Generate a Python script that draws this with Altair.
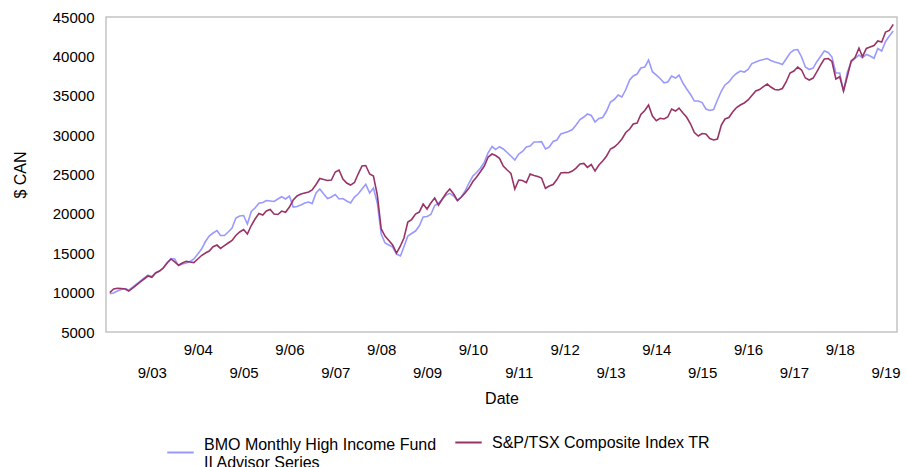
import altair as alt
import pandas as pd

# Growth of a $10,000 investment, month-end values from October 2002.
FUND = "BMO Monthly High Income Fund II Advisor Series"
INDEX = "S&P/TSX Composite Index TR"
FIRST_MONTH = "2002-10-01"

fund_values = [
    9850, 9950, 10200, 10390, 10520, 10330, 10710, 11090, 11470, 11850,
    12230, 12040, 12490, 12740, 13120, 13820, 14330, 14270, 13440, 13630,
    13760, 13950, 14270, 14900, 15540, 16490, 17190, 17570, 17890, 17250,
    17250, 17700, 18200, 19470, 19730, 19790, 18710, 20300, 20740, 21340,
    21440, 21700, 21630, 21570, 21890, 22180, 21890, 22270, 20870, 20930,
    21120, 21380, 21510, 21310, 22650, 23160, 22520, 21950, 22140, 22460,
    21890, 21950, 21630, 21380, 22140, 22520, 23160, 23750, 22650, 23280,
    21380, 17440, 16300, 16040, 15790, 14900, 14650, 15830, 17190, 17510,
    17820, 18460, 19600, 19660, 19920, 21060, 21340, 21890, 22390, 22610,
    22270, 21700, 22140, 22900, 23920, 24810, 25250, 25820, 26580, 27790,
    28550, 28170, 28530, 28240, 27790, 27350, 26840, 27600, 27920, 28490,
    28620, 29130, 29130, 29170, 28240, 28490, 29190, 29380, 30140, 30310,
    30460, 30710, 31280, 31980, 32300, 32680, 32490, 31670, 32110, 32240,
    33060, 34210, 34520, 35090, 34840, 35790, 37000, 37510, 37760, 38520,
    38650, 39540, 38050, 37630, 37190, 36650, 36750, 37510, 37250, 37630,
    36620, 35860, 35160, 34330, 34330, 34140, 33320, 33130, 33250, 34460,
    35600, 36370, 36750, 37380, 37830, 38140, 38010, 38330, 39090, 39290,
    39480, 39600, 39730, 39480, 39290, 39160, 38970, 39670, 40430, 40810,
    40870, 39920, 38650, 38330, 38520, 39290, 39990, 40680, 40490, 39920,
    37890, 37890, 35600, 38010, 39290, 39730, 40170, 39830, 40240, 40050,
    39760, 41000, 40680, 41890, 42590, 43220,
]

index_values = [
    10000, 10460, 10550, 10520, 10460, 10200, 10580, 10960, 11350, 11730,
    12110, 11940, 12490, 12740, 13120, 13760, 14270, 13890, 13470, 13760,
    13970, 13890, 13820, 14270, 14710, 15030, 15280, 15830, 16040, 15620,
    15980, 16300, 16620, 17250, 17700, 18010, 17440, 18520, 19350, 20040,
    19850, 20360, 20550, 19980, 19920, 20360, 20200, 20870, 21760, 22270,
    22520, 22650, 22780, 23030, 23730, 24490, 24360, 24240, 24300, 25320,
    25570, 24430, 23920, 23660, 23980, 25060, 26080, 26140, 25060, 24810,
    22390, 18080, 17190, 16620, 16040, 15030, 15920, 16930, 18960, 19280,
    19980, 20230, 21250, 20620, 21380, 22010, 21120, 21890, 22650, 23160,
    22520, 21700, 22140, 22650, 23280, 24110, 24680, 25380, 26080, 27220,
    27600, 27410, 27060, 26080, 25570, 25150, 23160, 24300, 24240, 23960,
    25060, 24870, 24740, 24550, 23250, 23540, 23730, 24360, 25190, 25250,
    25230, 25440, 25820, 26330, 26400, 25910, 26270, 25440, 26200, 26710,
    27350, 28240, 28490, 28940, 29510, 30330, 30780, 31410, 31540, 32620,
    33130, 33830, 32430, 31830, 32140, 32050, 32300, 33320, 33060, 33440,
    32810, 32260, 31410, 30330, 29890, 30210, 30140, 29570, 29380, 29510,
    31280, 32050, 32240, 32940, 33510, 33830, 34080, 34460, 35030, 35600,
    35790, 36150, 36490, 36110, 35790, 35730, 35920, 36750, 37890, 38140,
    38650, 38270, 37250, 37000, 37250, 38010, 38900, 39670, 39730, 39350,
    37130, 37420, 35600, 37510, 39410, 39860, 41060, 39960, 41000, 41190,
    41380, 41950, 41830, 43090, 43290, 44070,
]

y_ticks = [5000, 10000, 15000, 20000, 25000, 30000, 35000, 40000, 45000]
label_years = list(range(2003, 2020))

months = pd.date_range(FIRST_MONTH, periods=len(fund_values), freq="MS")
df = pd.concat(
    [
        pd.DataFrame({"Date": months, "Value": fund_values, "Series": FUND}),
        pd.DataFrame({"Date": months, "Value": index_values, "Series": INDEX}),
    ],
    ignore_index=True,
)

FONT = "Liberation Sans"

x_axis = alt.Axis(
    title="Date",
    values=[alt.DateTime(year=y, month=9, date=1) for y in label_years],
    format="%-m/%y",
    labelFont=FONT,
    labelFontSize=15,
    labelColor="#000000",
    labelAngle=0,
    # odd years drop to a second row of labels
    labelPadding={"condition": {"test": "year(datum.value) % 2 == 1", "value": 33}, "value": 10},
    labelOverlap=False,
    labelFlush=False,
    ticks=False,
    domain=False,
    grid=False,
    titleFont=FONT,
    titleFontSize=16,
    titleFontWeight="normal",
    titleColor="#000000",
    titlePadding=10,
)

y_axis = alt.Axis(
    title="$ CAN",
    values=y_ticks,
    format="d",
    labelFont=FONT,
    labelFontSize=15,
    labelColor="#000000",
    labelPadding=12,
    ticks=False,
    domain=False,
    grid=False,
    titleFont=FONT,
    titleFontSize=16,
    titleFontWeight="normal",
    titleColor="#000000",
    titlePadding=24,
)

x_enc = alt.X(
    "Date:T",
    axis=x_axis,
    scale=alt.Scale(
        domain=[
            alt.DateTime(year=2002, month=9, date=1),
            alt.DateTime(year=2019, month=12, date=1),
        ]
    ),
)
y_enc = alt.Y(
    "Value:Q",
    axis=y_axis,
    scale=alt.Scale(domain=[5000, 45000], nice=False, zero=False),
)


def legend_for(x, y, label_expr=None, baseline="middle"):
    opts = dict(
        title=None,
        orient="none",
        legendX=x,
        legendY=y,
        symbolType="stroke",
        symbolSize=700,
        symbolStrokeWidth=2,
        labelOffset=9,
        labelFont=FONT,
        labelFontSize=16,
        labelColor="#000000",
        labelLimit=400,
        labelBaseline=baseline,
    )
    if label_expr:
        opts["labelExpr"] = label_expr
    return alt.Legend(**opts)


fund_line = (
    alt.Chart(df)
    .transform_filter(alt.datum.Series == FUND)
    .mark_line(strokeWidth=1.6)
    .encode(
        x=x_enc,
        y=y_enc,
        color=alt.Color(
            "Series:N",
            scale=alt.Scale(domain=[FUND], range=["#9999ff"]),
            legend=legend_for(
                60,
                421,
                "['BMO Monthly High Income Fund', 'II Advisor Series']",
                baseline="bottom",
            ),
        ),
    )
)

index_line = (
    alt.Chart(df)
    .transform_filter(alt.datum.Series == INDEX)
    .mark_line(strokeWidth=1.6)
    .encode(
        x=x_enc,
        y=y_enc,
        color=alt.Color(
            "Series:N",
            scale=alt.Scale(domain=[INDEX], range=["#993366"]),
            legend=legend_for(348, 411),
        ),
    )
)

chart = (
    alt.layer(fund_line, index_line)
    .resolve_scale(color="independent")
    .properties(width=791, height=315)
    .configure_view(stroke="#c4c4c4", strokeWidth=1.5)
    .properties(
        autosize=alt.AutoSizeParams(type="none"),
        padding={"left": 106, "top": 17, "right": 10, "bottom": 135},
        background="#ffffff",
    )
)

chart.save("out.html", embed_options={"renderer": "svg", "actions": False})
